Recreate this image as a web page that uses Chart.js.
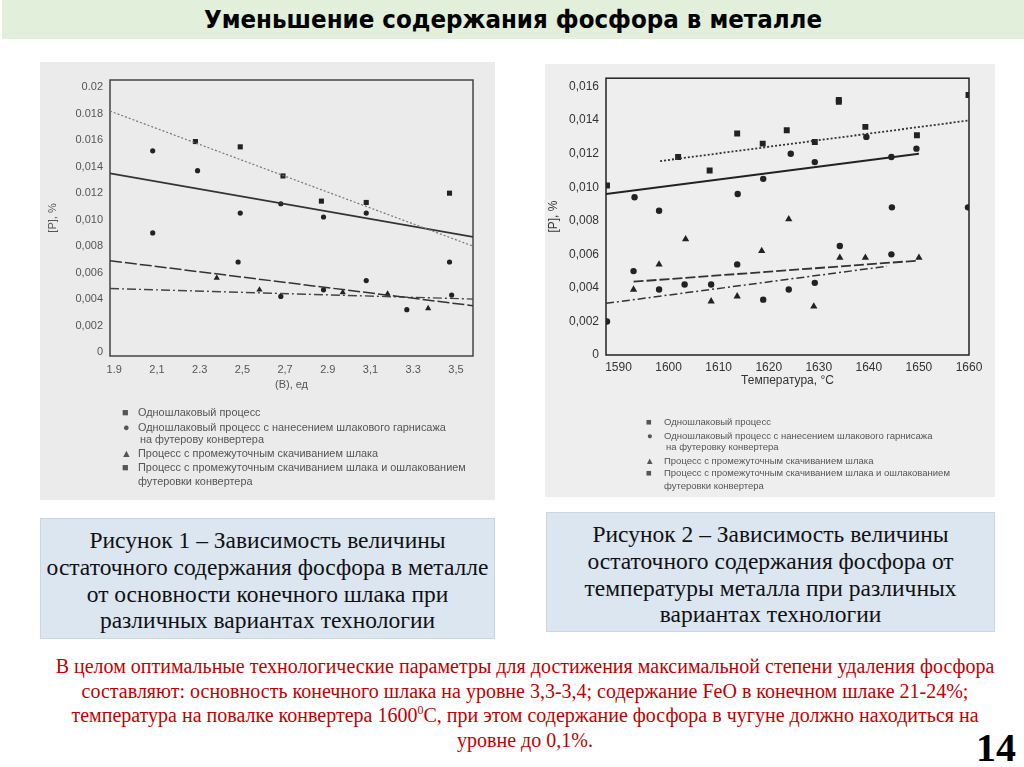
<!DOCTYPE html>
<html lang="ru">
<head>
<meta charset="utf-8">
<script src="https://cdn.jsdelivr.net/npm/chart.js@4.4.1/dist/chart.umd.min.js"></script>
<style>
  html, body { margin: 0; padding: 0; background: #fff; }
  body { width: 1024px; height: 767px; position: relative; overflow: hidden; }
  .titlebar { position: absolute; left: 2px; top: 0; width: 1022px; height: 39px; background: #e2efda;
    font: bold 25.6px "Liberation Sans Narrow", "DejaVu Sans Condensed", sans-serif; text-align: center; line-height: 39px; color: #000; }
  .scan { position: absolute; background: #ebebeb; }
  .scan canvas { position: absolute; left: 0; }
  .leg { position: absolute; font: 10.9px "Liberation Sans", Arial, sans-serif; color: #555; white-space: nowrap; }
  .leg span { position: absolute; }
  .caption { position: absolute; background: #dce6f1; border: 1px solid #c9d6e6; box-sizing: border-box;
    font: 23.5px "Liberation Serif", "Times New Roman", serif; color: #111; text-align: center; line-height: 26.8px; padding-top: 8px; white-space: nowrap; }
  .note { position: absolute; left: 30px; width: 990px; top: 654px; text-align: center; white-space: nowrap;
    font: 20px "Liberation Serif", "Times New Roman", serif; color: #c00000; line-height: 24.5px; }
  .note sup { font-size: 12px; vertical-align: 8px; line-height: 0; }
  .page { position: absolute; right: 8px; top: 724px; font: bold 40px "Liberation Serif", serif; color: #000; }
</style>
</head>
<body>
<div class="titlebar">Уменьшение содержания фосфора в металле</div>

<div class="scan" style="left:40px; top:62px; width:455px; height:438px;">
  <canvas id="fig1" width="455" height="334"></canvas>
  <div class="leg" style="left:0; top:0; width:455px; height:438px;">
    <span style="left:82px; top:344px;">■</span><span style="left:98px; top:344px;">Одношлаковый процесс</span>
    <span style="left:83px; top:359px;">●</span><span style="left:98px; top:359px;">Одношлаковый процесс с нанесением шлакового гарнисажа</span>
    <span style="left:100px; top:371px;">на футерову конвертера</span>
    <span style="left:81px; top:385px;">▲</span><span style="left:98px; top:385px;">Процесс с промежуточным скачиванием шлака</span>
    <span style="left:82px; top:399px;">■</span><span style="left:98px; top:399px;">Процесс с промежуточным скачиванием шлака и ошлакованием</span>
    <span style="left:98px; top:413px;">футеровки конвертера</span>
  </div>
</div>

<div class="scan" style="left:545px; top:64px; width:450px; height:433px; background:#eeeeee;">
  <canvas id="fig2" width="450" height="328"></canvas>
  <div class="leg" style="left:0; top:0; width:450px; height:433px; font-size:9.5px;">
    <span style="left:101px; top:352px;">■</span><span style="left:119px; top:352px;">Одношлаковый процесс</span>
    <span style="left:102px; top:366px;">●</span><span style="left:119px; top:366px;">Одношлаковый процесс с нанесением шлакового гарнисажа</span>
    <span style="left:121px; top:377px;">на футеровку конвертера</span>
    <span style="left:100px; top:391px;">▲</span><span style="left:119px; top:391px;">Процесс с промежуточным скачиванием шлака</span>
    <span style="left:101px; top:403px;">■</span><span style="left:119px; top:403px;">Процесс с промежуточным скачиванием шлака и ошлакованием</span>
    <span style="left:119px; top:416px;">футеровки конвертера</span>
  </div>
</div>

<div class="caption" style="left:40px; top:518px; width:455px; height:121px;">Рисунок 1 – Зависимость величины<br>остаточного содержания фосфора в металле<br>от основности конечного шлака при<br>различных вариантах технологии</div>
<div class="caption" style="left:546px; top:512px; width:449px; height:120px;">Рисунок 2 – Зависимость величины<br>остаточного содержания фосфора от<br>температуры металла при различных<br>вариантах технологии</div>

<div class="note">В целом оптимальные технологические параметры для достижения максимальной степени удаления фосфора<br>составляют: основность конечного шлака на уровне 3,3-3,4; содержание FeO в конечном шлаке 21-24%;<br>температура на повалке конвертера 1600<sup>0</sup>С, при этом содержание фосфора в чугуне должно находиться на<br>уровне до 0,1%.</div>
<div class="page">14</div>

<script>
// ---- Рисунок 1: [P] от основности (В)
const f1XTicks = [1.9, 2.1, 2.3, 2.5, 2.7, 2.9, 3.1, 3.3, 3.5];
const f1XLabels = ['1.9', '2,1', '2.3', '2,5', '2,7', '2.9', '3,1', '3.3', '3,5'];
const f1YTicks = [0, 0.002, 0.004, 0.006, 0.008, 0.010, 0.012, 0.014, 0.016, 0.018, 0.02];
const f1YLabels = ['0', '0,002', '0,004', '0,006', '0,008', '0,010', '0.012', '0,014', '0.016', '0.018', '0.02'];

const f1SingleX = [2.28, 2.49, 2.69, 2.87, 3.08, 3.47];
const f1SingleY = [0.0159, 0.0155, 0.0133, 0.0114, 0.0113, 0.0120];
const f1GarnX = [2.08, 2.08, 2.29, 2.49, 2.68, 2.88, 3.08];
const f1GarnY = [0.0152, 0.0090, 0.0137, 0.0105, 0.0112, 0.0102, 0.0105];
const f1InterX = [2.38, 2.58, 2.97, 3.18, 3.37];
const f1InterY = [0.0056, 0.0047, 0.0045, 0.0044, 0.0033];
const f1CoatX = [2.48, 2.68, 2.88, 3.08, 3.27, 3.47, 3.48];
const f1CoatY = [0.0068, 0.0042, 0.0047, 0.0054, 0.0032, 0.0068, 0.0043];

// линии тренда (концы)
const f1TrendX = [1.88, 3.58];
const f1SingleTrend = [0.0182, 0.0080];
const f1GarnTrend = [0.0135, 0.0087];
const f1InterTrend = [0.0048, 0.0040];
const f1CoatTrend = [0.0069, 0.0035];

// ---- Рисунок 2: [P] от температуры
const f2XTicks = [1590, 1600, 1610, 1620, 1630, 1640, 1650, 1660];
const f2XLabels = ['1590', '1600', '1610', '1620', '1630', '1640', '1650', '1660'];
const f2YTicks = [0, 0.002, 0.004, 0.006, 0.008, 0.010, 0.012, 0.014, 0.016];
const f2YLabels = ['0', '0,002', '0,004', '0,006', '0,008', '0,010', '0,012', '0,014', '0,016'];

const f2SingleX = [1587.7, 1601.9, 1608.2, 1613.7, 1618.8, 1623.6, 1629.2, 1634.0, 1634.0, 1639.3, 1649.6, 1659.9];
const f2SingleY = [0.0101, 0.0118, 0.0110, 0.0132, 0.0126, 0.0134, 0.0127, 0.0152, 0.0151, 0.0136, 0.0131, 0.0155];
const f2GarnX = [1593.2, 1598.1, 1613.8, 1618.9, 1624.4, 1629.2, 1639.5, 1644.5, 1644.6, 1649.5, 1659.8];
const f2GarnY = [0.0094, 0.0086, 0.0096, 0.0105, 0.0120, 0.0115, 0.0130, 0.0118, 0.0088, 0.0123, 0.0088];
const f2InterX = [1593.0, 1598.1, 1603.4, 1608.5, 1613.7, 1618.6, 1624.0, 1629.0, 1634.2, 1639.3, 1650.0];
const f2InterY = [0.0039, 0.0054, 0.0069, 0.0032, 0.0035, 0.0062, 0.0081, 0.0029, 0.0058, 0.0058, 0.0058];
const f2CoatX = [1587.7, 1593.0, 1598.1, 1603.2, 1608.5, 1613.7, 1618.9, 1624.0, 1629.2, 1634.2, 1644.5];
const f2CoatY = [0.0020, 0.0050, 0.0039, 0.0042, 0.0042, 0.0054, 0.0033, 0.0039, 0.0043, 0.0065, 0.0060];

const f2SingleTrendX = [1598.3, 1659.7];
const f2SingleTrend = [0.01156, 0.01397];
const f2GarnTrendX = [1587.5, 1650.0];
const f2GarnTrend = [0.0096, 0.0120];
const f2CoatTrendX = [1593.0, 1649.6];
const f2CoatTrend = [0.00437, 0.00562];
const f2InterTrendX = [1587.5, 1643.6];
const f2InterTrend = [0.00308, 0.00529];

const pts = (xs, ys) => xs.map((x, i) => ({ x, y: ys[i] }));

// рамка вокруг поля графика, как на скане
const framePlugin = {
  id: 'frame',
  beforeDatasetsDraw(chart, args, opts) {
    const { ctx, chartArea: a } = chart;
    ctx.save();
    ctx.strokeStyle = opts.color;
    ctx.lineWidth = opts.width;
    ctx.strokeRect(a.left, a.top, a.right - a.left, a.bottom - a.top);
    ctx.restore();
  }
};

function scatterSet(data, style, r, color) {
  return { type: 'scatter', data, pointStyle: style, pointRadius: r, backgroundColor: color, borderColor: color, borderWidth: 0 };
}
function trendSet(data, dash, w, color) {
  return { type: 'line', data, borderDash: dash, borderWidth: w, borderColor: color, pointRadius: 0, fill: false, tension: 0 };
}

function makeChart(id, cfg) {
  const ticksFrom = (vals) => (scale) => { scale.ticks = vals.map(v => ({ value: v })); };
  return new Chart(document.getElementById(id), {
    data: { datasets: cfg.datasets },
    options: {
      responsive: false, animation: false, events: [],
      layout: { padding: cfg.padding },
      plugins: { legend: { display: false }, tooltip: { enabled: false }, frame: { color: cfg.frame, width: 1.5 } },
      scales: {
        x: {
          type: 'linear', min: cfg.xMin, max: cfg.xMax,
          afterBuildTicks: ticksFrom(cfg.xTicks),
          afterFit: (s) => { s.height = cfg.xHeight; },
          grid: { display: false, drawTicks: false }, border: { display: false },
          ticks: { padding: cfg.xPad, color: cfg.text, font: { size: cfg.fs }, maxRotation: 0, autoSkip: false,
                   callback: (v, i) => cfg.xLabels[i] },
          title: { display: true, text: cfg.xTitle, color: cfg.text, font: { size: cfg.fs }, padding: { top: 0, bottom: 4 } }
        },
        y: {
          min: cfg.yMin, max: cfg.yMax,
          afterBuildTicks: ticksFrom(cfg.yTicks),
          afterFit: (s) => { s.width = cfg.yWidth; },
          grid: { display: false, drawTicks: false }, border: { display: false },
          ticks: { padding: 7, color: cfg.text, font: { size: cfg.fs }, autoSkip: false,
                   callback: (v, i) => cfg.yLabels[i] },
          title: { display: true, text: '[P], %', color: cfg.text, font: { size: cfg.fs }, padding: { top: cfg.yTitlePad, bottom: 0 } }
        }
      }
    },
    plugins: [framePlugin]
  });
}

Chart.defaults.font.family = '"Liberation Sans", Arial, sans-serif';

makeChart('fig1', {
  padding: { left: 0, right: 22, top: 18, bottom: 0 },
  xMin: 1.88, xMax: 3.58, yMin: -0.0003, yMax: 0.02055,
  xTicks: f1XTicks, xLabels: f1XLabels, yTicks: f1YTicks, yLabels: f1YLabels,
  xHeight: 40, yWidth: 70, xPad: 7, yTitlePad: 6, fs: 11,
  text: '#555', frame: '#444', xTitle: '(В), ед',
  datasets: [
    trendSet(pts(f1TrendX, f1SingleTrend), [2, 2], 1.2, '#777'),
    trendSet(pts(f1TrendX, f1GarnTrend), [], 1.6, '#333'),
    trendSet(pts(f1TrendX, f1CoatTrend), [12, 3], 1.5, '#333'),
    trendSet(pts(f1TrendX, f1InterTrend), [9, 3, 2, 3], 1.4, '#444'),
    scatterSet(pts(f1SingleX, f1SingleY), 'rect', 3.6, '#222'),
    scatterSet(pts(f1GarnX, f1GarnY), 'circle', 2.6, '#222'),
    scatterSet(pts(f1InterX, f1InterY), 'triangle', 3.6, '#222'),
    scatterSet(pts(f1CoatX, f1CoatY), 'circle', 2.6, '#222')
  ]
});

makeChart('fig2', {
  padding: { left: 0, right: 26, top: 9, bottom: 0 },
  xMin: 1587.5, xMax: 1660, yMin: 0, yMax: 0.0165,
  xTicks: f2XTicks, xLabels: f2XLabels, yTicks: f2YTicks, yLabels: f2YLabels,
  xHeight: 37, yWidth: 61, xPad: 5, yTitlePad: 1, fs: 12,
  text: '#333', frame: '#222', xTitle: 'Температура, °С',
  datasets: [
    trendSet(pts(f2SingleTrendX, f2SingleTrend), [2, 2], 1.8, '#333'),
    trendSet(pts(f2GarnTrendX, f2GarnTrend), [], 2, '#222'),
    trendSet(pts(f2CoatTrendX, f2CoatTrend), [10, 3], 1.8, '#333'),
    trendSet(pts(f2InterTrendX, f2InterTrend), [8, 3, 2, 3], 1.5, '#333'),
    scatterSet(pts(f2SingleX, f2SingleY), 'rect', 4.2, '#222'),
    scatterSet(pts(f2GarnX, f2GarnY), 'circle', 3.2, '#222'),
    scatterSet(pts(f2InterX, f2InterY), 'triangle', 4.2, '#222'),
    scatterSet(pts(f2CoatX, f2CoatY), 'circle', 3.2, '#222')
  ]
});
</script>
</body>
</html>
